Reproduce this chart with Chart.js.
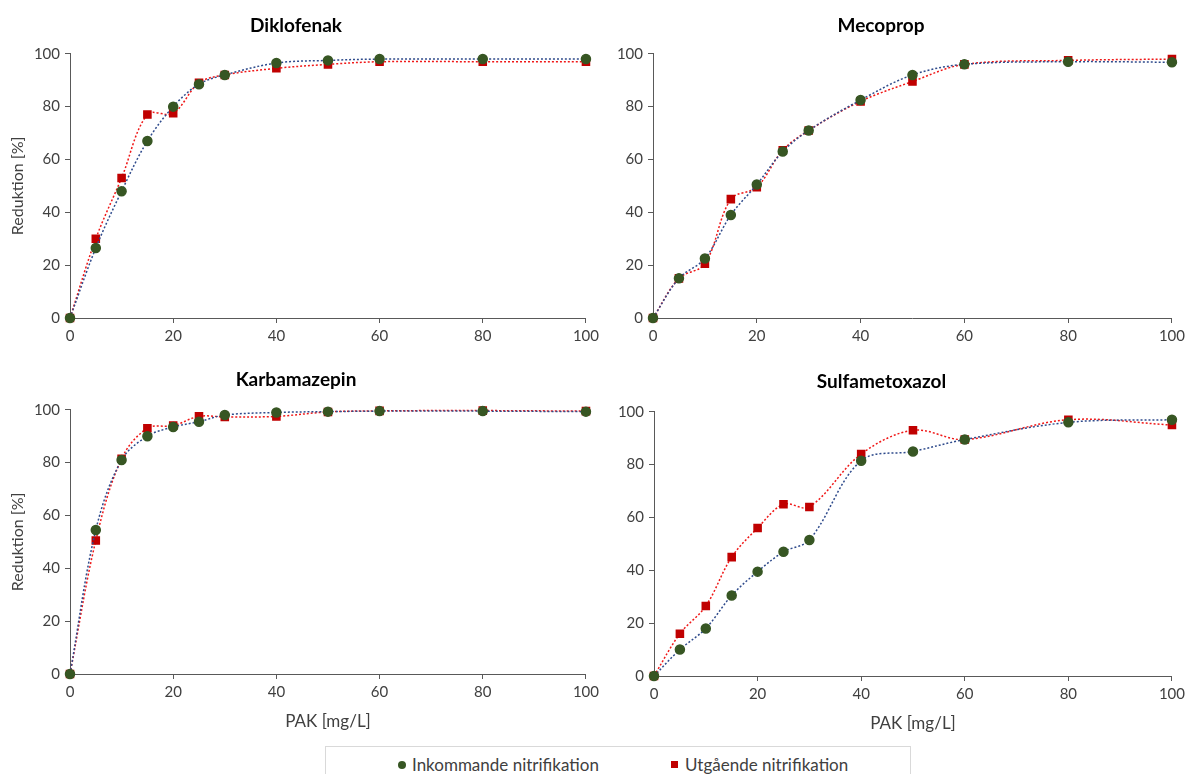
<!DOCTYPE html>
<html>
<head>
<meta charset="utf-8">
<script src="https://cdn.jsdelivr.net/npm/chart.js@4.4.1/dist/chart.umd.min.js"></script>
<style>
  body { margin: 0; background: #fff; width: 1189px; height: 774px; overflow: hidden; position: relative; font-family: Lato, "Open Sans", sans-serif; }
  canvas { position: absolute; }
  #legend {
    position: absolute; left: 325px; top: 746px; width: 586px; height: 40px;
    border: 1px solid #d9d9d9; box-sizing: border-box;
    font-size: 17px; color: #404040;
  }
  #legend span { position: absolute; top: 7px; white-space: nowrap; }
  .dot { display: inline-block; width: 8px; height: 8px; border-radius: 50%; background: #375623; margin-right: 6px; vertical-align: 2px; }
  .sq { display: inline-block; width: 7px; height: 7px; background: #c00000; margin-right: 7px; vertical-align: 3px; }
</style>
</head>
<body>
<canvas id="c1"></canvas>
<canvas id="c2"></canvas>
<canvas id="c3"></canvas>
<canvas id="c4"></canvas>
<div id="legend">
  <span style="left:72px"><i class="dot"></i>Inkommande nitrifikation</span>
  <span style="left:345px"><i class="sq"></i>Utgående nitrifikation</span>
</div>
<script>
// PAK-dos [mg/L]
const doser = [0, 5, 10, 15, 20, 25, 30, 40, 50, 60, 80, 100];

// Reduktion [%] per substans
const diklofenakInk = [0, 26.5, 48, 67, 80, 88.5, 92, 96.5, 97.5, 98, 98, 98];
const diklofenakUtg = [0, 30, 53, 77, 77.5, 89, 92, 94.5, 96, 97, 97, 97];
const mecopropInk = [0, 15, 22.5, 39, 50.5, 63, 71, 82.5, 92, 96, 97, 96.8];
const mecopropUtg = [0, 15, 20.5, 45, 49.5, 63.5, 71, 82, 89.5, 96, 97.5, 98];
const karbamazepinInk = [0, 54.5, 81, 90, 93.5, 95.5, 98, 99, 99.3, 99.5, 99.5, 99.3];
const karbamazepinUtg = [0, 50.5, 81.5, 93, 94, 97.5, 97.3, 97.5, 99.2, 99.6, 99.7, 99.5];
const sulfaInk = [0, 10, 18, 30.5, 39.5, 47, 51.5, 81.5, 85, 89.5, 96, 97];
const sulfaUtg = [0, 16, 26.5, 45, 56, 65, 64, 84, 93, 89.5, 97, 95];

const xTicks = [0, 20, 40, 60, 80, 100];
const yTicks = [0, 20, 40, 60, 80, 100];

const serieNamn = ['Inkommande nitrifikation', 'Utgående nitrifikation'];

const FONT = 'Lato, "Open Sans", sans-serif';
const AXIS = '#595959';
const TEXT = '#404040';

function punkter(values) {
  return doser.map((d, i) => ({ x: d, y: values[i] }));
}

function panel(id, pos, title, ink, utg, yTitle, xTitle) {
  const cv = document.getElementById(id);
  cv.style.left = pos.left + 'px';
  cv.style.top = pos.top + 'px';
  cv.width = pos.w;
  cv.height = pos.h;

  new Chart(cv, {
    type: 'line',
    data: {
      datasets: [
        {
          label: serieNamn[0],
          data: punkter(ink),
          borderColor: '#2f4b8c',
          borderWidth: 1.5,
          borderDash: [2, 2],
          tension: 0.35,
          pointStyle: 'circle',
          pointRadius: 4.5,
          pointBackgroundColor: '#375623',
          pointBorderColor: '#375623',
          clip: false
        },
        {
          label: serieNamn[1],
          data: punkter(utg),
          borderColor: '#f01818',
          borderWidth: 1.5,
          borderDash: [2, 2],
          tension: 0.35,
          pointStyle: 'rect',
          pointRadius: 5,
          pointBackgroundColor: '#c00000',
          pointBorderColor: '#c00000',
          clip: false
        }
      ]
    },
    options: {
      responsive: false,
      animation: false,
      layout: { padding: { right: pos.padR, top: 0 } },
      plugins: {
        legend: { display: false },
        tooltip: { enabled: false },
        title: {
          display: true,
          text: title,
          color: '#000',
          font: { family: FONT, size: 19, weight: 'bold' },
          padding: { top: pos.titleTop, bottom: pos.titleBottom }
        }
      },
      scales: {
        x: {
          type: 'linear',
          min: 0,
          max: 100,
          afterBuildTicks: s => { s.ticks = xTicks.map(v => ({ value: v })); },
          afterFit: s => { s.height = pos.xh; },
          ticks: { color: TEXT, font: { family: FONT, size: 15 }, padding: 4, maxRotation: 0 },
          grid: { display: true, drawOnChartArea: false, drawTicks: true, tickLength: 5, color: AXIS },
          border: { color: AXIS, width: 1 },
          title: { display: xTitle, text: 'PAK [mg/L]', color: TEXT, font: { family: FONT, size: 17 }, padding: { top: 2 } }
        },
        y: {
          min: 0,
          max: 100,
          afterBuildTicks: s => { s.ticks = yTicks.map(v => ({ value: v })); },
          afterFit: s => { s.width = pos.yw; },
          ticks: { color: TEXT, font: { family: FONT, size: 15 }, padding: 5 },
          grid: { display: true, drawOnChartArea: false, drawTicks: true, tickLength: 5, color: AXIS },
          border: { color: AXIS, width: 1 },
          title: { display: yTitle, text: 'Reduktion [%]', color: TEXT, font: { family: FONT, size: 16 }, padding: { top: 8, bottom: 0 } }
        }
      }
    }
  });
}

panel('c1', { left: 0, top: 0, w: 603, h: 352, yw: 70, xh: 34, padR: 11, titleTop: 14, titleBottom: 17 },
  'Diklofenak', diklofenakInk, diklofenakUtg, true, false);
panel('c2', { left: 583, top: 0, w: 606, h: 352, yw: 70, xh: 34, padR: 10, titleTop: 14, titleBottom: 17 },
  'Mecoprop', mecopropInk, mecopropUtg, false, false);
panel('c3', { left: 0, top: 355, w: 603, h: 381, yw: 70, xh: 62, padR: 11, titleTop: 13, titleBottom: 19 },
  'Karbamazepin', karbamazepinInk, karbamazepinUtg, true, true);
panel('c4', { left: 584, top: 357, w: 605, h: 381, yw: 70, xh: 62, padR: 10, titleTop: 13, titleBottom: 19 },
  'Sulfametoxazol', sulfaInk, sulfaUtg, false, true);
</script>
</body>
</html>
